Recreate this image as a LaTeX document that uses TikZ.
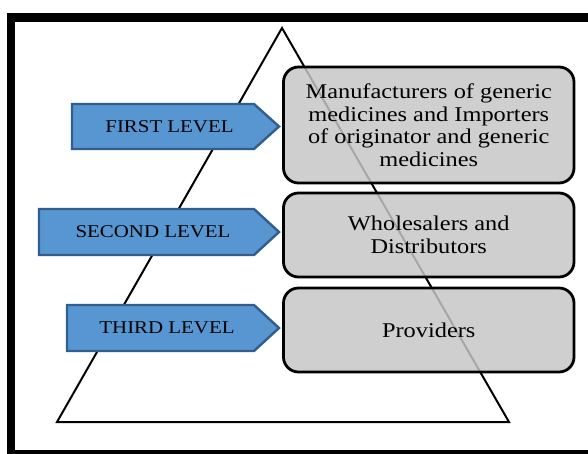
\documentclass[tikz,border=0pt]{standalone}
\usepackage{fontspec}
\setmainfont{Liberation Serif}[FakeStretch=1.16]
\begin{document}
\begin{tikzpicture}[x=1pt,y=-1pt,
  frameline/.style={line width=8.5pt,draw=black},
  pyramid/.style={line width=2pt,draw=black,line join=miter},
  levelbox/.style={draw=black,line width=2.8pt,rounded corners=15pt,
    fill={rgb,255:red,198;green,198;blue,198},fill opacity=0.84,text opacity=1,
    align=center,inner sep=0pt,font=\fontsize{21}{22.5}\selectfont,text=black},
  levelarrow/.style={draw={rgb,255:red,49;green,94;blue,140},line width=2.4pt,
    fill={rgb,255:red,88;green,150;blue,210},line join=miter},
  levellabel/.style={font=\fontsize{18}{20}\selectfont,text=black,inner sep=0pt}]
\useasboundingbox (0,0) rectangle (588,453);
\clip (0,0) rectangle (588,453);
\fill[white] (0,0) rectangle (588,453);
% outer frame
\draw[frameline] (11,17.5) rectangle (600,454.5);
% pyramid
\coordinate (apex) at (282,28);
\coordinate (baseL) at (57,422);
\coordinate (baseR) at (509,422);
\draw[pyramid] (apex) -- (baseR) -- (baseL) -- cycle;
% right-hand boxes
\node[levelbox,minimum width=290.5pt,minimum height=116pt] (b1) at (428.75,125) {Manufacturers of generic\\medicines and Importers\\of originator and generic\\medicines};
\node[levelbox,minimum width=290.5pt,minimum height=84pt] (b2) at (428.75,235) {Wholesalers and\\Distributors};
\node[levelbox,minimum width=290.5pt,minimum height=84pt] (b3) at (428.75,330) {Providers};
% level arrows: left edge, top, bottom; body ends at x=254, tip at x=279
\draw[levelarrow] (72,104) -- (254,104) -- (279,126.5) -- (254,149) -- (72,149) -- cycle;
\draw[levelarrow] (39,209) -- (254,209) -- (279,232) -- (254,255) -- (39,255) -- cycle;
\draw[levelarrow] (67,305) -- (254,305) -- (279,328) -- (254,351) -- (67,351) -- cycle;
\node[levellabel] (l1) at (169.5,126.5) {FIRST LEVEL};
\node[levellabel] (l2) at (153,232) {SECOND LEVEL};
\node[levellabel] (l3) at (167,328) {THIRD LEVEL};
\end{tikzpicture}
\end{document}
